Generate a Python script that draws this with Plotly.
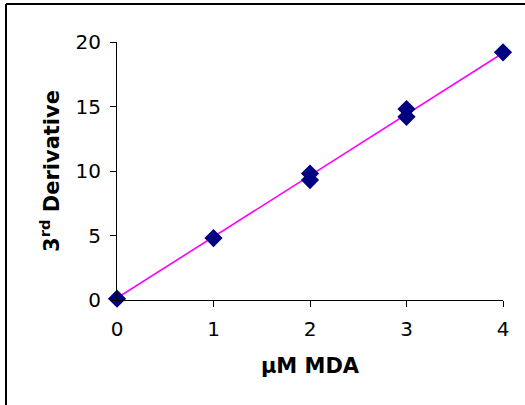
import plotly.graph_objects as go

# Data
conc_uM = [0, 1, 2, 2, 3, 3, 4]
deriv3 = [0.1, 4.8, 9.8, 9.3, 14.8, 14.2, 19.2]
fit_x = [0, 4]
fit_y = [0.15, 19.15]

x_ticks = [0, 1, 2, 3, 4]
y_ticks = [0, 5, 10, 15, 20]

W, H = 525, 405
ML, MR, MT, MB = 117, 22, 42, 105
pw, ph = W - ML - MR, H - MT - MB

def px2u(px):
    return (px - ML) / pw

def py2v(py):
    return 1 - (py - MT) / ph

fig = go.Figure()
fig.add_trace(go.Scatter(x=fit_x, y=fit_y, mode="lines",
                         line=dict(color="#FF00FF", width=1.6),
                         hoverinfo="skip", showlegend=False, cliponaxis=False))
fig.add_trace(go.Scatter(x=conc_uM, y=deriv3, mode="markers",
                         marker=dict(symbol="diamond", size=14, color="#000080",
                                     line=dict(width=0)),
                         showlegend=False, cliponaxis=False))

font_family = "Verdana, DejaVu Sans, sans-serif"
FS = 20
TFS = 21

border = dict(color="black", width=2)
fig.update_layout(
    width=W, height=H,
    margin=dict(l=ML, r=MR, t=MT, b=MB, pad=0),
    paper_bgcolor="white", plot_bgcolor="white",
    font=dict(family=font_family, color="black", size=FS),
    xaxis=dict(range=[0, 4], tickvals=x_ticks, ticks="outside", ticklen=6,
               tickwidth=1, tickcolor="black", showline=True, linecolor="black",
               linewidth=1, showgrid=False, zeroline=False,
               tickfont=dict(size=FS), ticklabelstandoff=5,
               title=dict(text="<b>µM MDA</b>", font=dict(size=TFS), standoff=18)),
    yaxis=dict(range=[0, 20], tickvals=y_ticks, ticks="outside", ticklen=6,
               tickwidth=1, tickcolor="black", showline=True, linecolor="black",
               linewidth=1, showgrid=False, zeroline=False,
               tickfont=dict(size=FS), ticklabelstandoff=5,
               title=dict(text="<b>3<sup>rd</sup> Derivative</b>", font=dict(size=TFS), standoff=10)),
    shapes=[
        dict(type="line", xref="paper", yref="paper",
             x0=px2u(6), x1=px2u(540), y0=py2v(4), y1=py2v(4), line=border),
        dict(type="line", xref="paper", yref="paper",
             x0=px2u(6), x1=px2u(6), y0=py2v(4), y1=py2v(420), line=border),
    ],
)

fig.write_html("out.html", config={"displayModeBar": False},
               post_script="document.body.style.margin='0';document.body.style.padding='0';")
